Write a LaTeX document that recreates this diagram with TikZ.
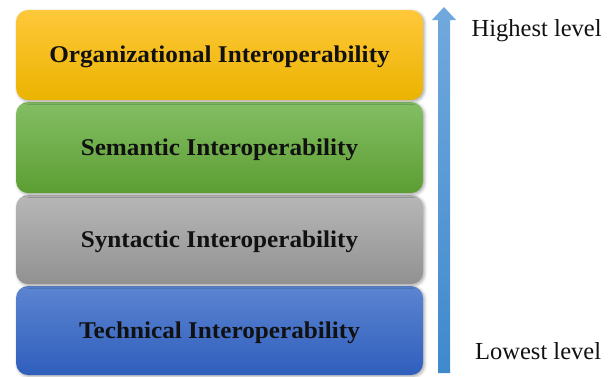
\documentclass[tikz,border=0pt]{standalone}
\usepackage{fontspec}
\setmainfont{Liberation Serif}
\newfontfamily\boxfont[FakeStretch=1.05]{Liberation Serif}
\usetikzlibrary{shadows.blur}
\definecolor{txt}{HTML}{111111}
\definecolor{yelT}{HTML}{FFC83A}
\definecolor{yelB}{HTML}{EBB300}
\definecolor{grnT}{HTML}{84BE64}
\definecolor{grnB}{HTML}{5C9E33}
\definecolor{gryT}{HTML}{B7B7B7}
\definecolor{gryB}{HTML}{919191}
\definecolor{bluT}{HTML}{5C85D1}
\definecolor{bluB}{HTML}{2F5EBC}
\definecolor{arrT}{HTML}{72A9DD}
\definecolor{arrB}{HTML}{3F89CD}
\tikzset{
  layer/.style={rounded corners=12pt, minimum width=407pt, inner sep=0pt,
    text height=15.5pt, text depth=0pt,
    text=txt, font=\boxfont\bfseries\fontsize{24}{28}\selectfont,
    blur shadow={shadow xshift=1.5pt, shadow yshift=-1.5pt, shadow blur radius=3pt, shadow opacity=35}},
  lvl/.style={anchor=base west, inner sep=0pt, text=txt, font=\fontsize{24.5}{28}\selectfont}
}
\begin{document}
\begin{tikzpicture}[x=1pt,y=-1pt]
\useasboundingbox (0,0) rectangle (615,376);
\node[layer, minimum height=89pt, top color=bluT, bottom color=bluB] (tech) at (219.5,330.5) {Technical Interoperability};
\node[layer, minimum height=89pt, top color=gryT, bottom color=gryB] (synt) at (219.5,239.5) {Syntactic Interoperability};
\node[layer, minimum height=91pt, top color=grnT, bottom color=grnB] (sem) at (219.5,147.5) {Semantic Interoperability};
\node[layer, minimum height=90pt, top color=yelT, bottom color=yelB] (org) at (219.5,55) {Organizational Interoperability};
\coordinate (abot) at (444,373);
\coordinate (atop) at (444,7);
\shade[top color=arrT, bottom color=arrB]
  ([xshift=-6pt]abot) -- ([xshift=-6pt]atop |- 0,20) -- ([xshift=-12pt]atop |- 0,20) -- (atop)
  -- ([xshift=12pt]atop |- 0,20) -- ([xshift=6pt]atop |- 0,20) -- ([xshift=6pt]abot) -- cycle;
\node[lvl] (hi) at (471.5,36.5) {Highest level};
\node[lvl] (lo) at (475,359.3) {Lowest level};
\end{tikzpicture}
\end{document}
